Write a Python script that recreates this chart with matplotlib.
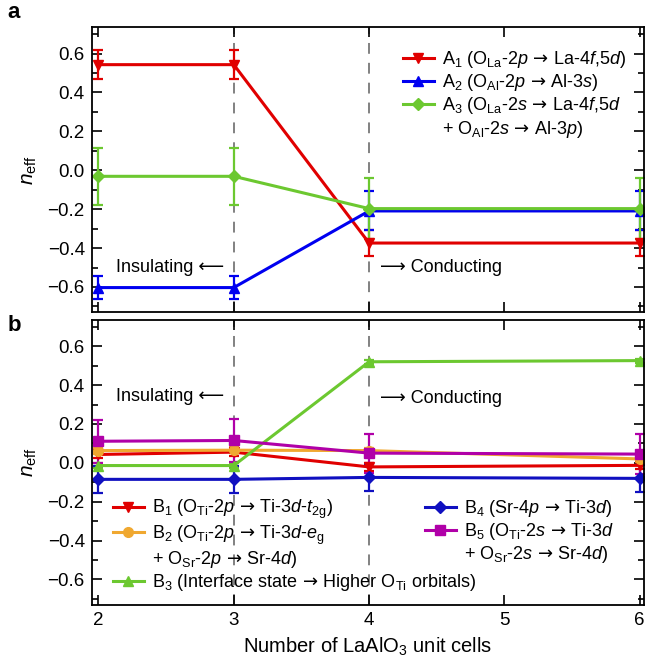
import matplotlib
matplotlib.use("Agg")
import matplotlib.pyplot as plt
from matplotlib.ticker import MultipleLocator
from matplotlib.lines import Line2D

plt.rcParams['font.family'] = ['Liberation Sans', 'DejaVu Sans']
plt.rcParams['mathtext.fontset'] = 'custom'
plt.rcParams['mathtext.rm'] = 'Liberation Sans'
plt.rcParams['mathtext.it'] = 'Liberation Sans:italic'
plt.rcParams['mathtext.bf'] = 'Liberation Sans:bold'
plt.rcParams['mathtext.sf'] = 'DejaVu Sans'

# ---------------- data ----------------
n_cells = [2, 3, 4, 6]

A1 = [0.543, 0.543, -0.374, -0.374]
A1_err = [0.075, 0.075, 0.065, 0.065]
A2 = [-0.603, -0.603, -0.209, -0.209]
A2_err = [0.06, 0.06, 0.10, 0.10]
A3 = [-0.031, -0.031, -0.197, -0.197]
A3_err = [0.145, 0.145, 0.155, 0.155]

B1 = [0.043, 0.055, -0.021, -0.013]
B1_err = [0.02, 0.02, 0.02, 0.02]
B2 = [0.063, 0.065, 0.063, 0.020]
B2_err = [0.015, 0.015, 0.015, 0.015]
B3 = [-0.014, -0.014, 0.520, 0.526]
B3_err = [0.015, 0.015, 0.01, 0.01]
B4 = [-0.085, -0.085, -0.075, -0.080]
B4_err = [0.07, 0.07, 0.07, 0.07]
B5 = [0.111, 0.115, 0.050, 0.045]
B5_err = [0.11, 0.11, 0.10, 0.105]

AR = r'$\,\mathsf{\rightarrow}\,$'
labels_a = [
    r'A$_1$ (O$_{\rm La}$-2$p$' + AR + r'La-4$f$,5$d$)',
    r'A$_2$ (O$_{\rm Al}$-2$p$' + AR + r'Al-3$s$)',
    r'A$_3$ (O$_{\rm La}$-2$s$' + AR + r'La-4$f$,5$d$',
    r'+ O$_{\rm Al}$-2$s$' + AR + r'Al-3$p$)',
]
labels_b = [
    r'B$_1$ (O$_{\rm Ti}$-2$p$' + AR + r'Ti-3$d$-$t_{\rm 2g}$)',
    r'B$_2$ (O$_{\rm Ti}$-2$p$' + AR + r'Ti-3$d$-$e_{\rm g}$',
    r'+ O$_{\rm Sr}$-2$p$' + AR + r'Sr-4$d$)',
    r'B$_3$ (Interface state' + AR + r'Higher O$_{\rm Ti}$ orbitals)',
    r'B$_4$ (Sr-4$p$' + AR + r'Ti-3$d$)',
    r'B$_5$ (O$_{\rm Ti}$-2$s$' + AR + r'Ti-3$d$',
    r'+ O$_{\rm Sr}$-2$s$' + AR + r'Sr-4$d$)',
]
xticks = [2, 3, 4, 5, 6]
yticks = [-0.6, -0.4, -0.2, 0.0, 0.2, 0.4, 0.6]

c_red = '#e00000'
c_blue = '#0000f0'
c_green = '#6cc830'
c_orange = '#f0a830'
c_dblue = '#1010c0'
c_mag = '#b000a8'

fig = plt.figure(figsize=(6.48, 6.58), dpi=100)
ax1 = fig.add_axes([0.1415, 0.5254, 0.852, 0.4331])
ax2 = fig.add_axes([0.1415, 0.0810, 0.852, 0.4327])


def style(ax):
    ax.set_xlim(1.95, 6.03)
    ax.set_ylim(-0.73, 0.735)
    ax.set_xticks(xticks)
    ax.set_yticks(yticks)
    ax.set_yticklabels([f'{v:.1f}'.replace('-', '−') for v in yticks])
    ax.yaxis.set_minor_locator(MultipleLocator(0.1))
    ax.tick_params(which='both', direction='in', top=True, right=True,
                   labelsize=13.5, width=1.2)
    ax.tick_params(which='major', length=7, pad=5)
    ax.tick_params(which='minor', length=4)
    for s in ax.spines.values():
        s.set_linewidth(1.3)
    for xv in (3, 4):
        ax.axvline(xv, color='#777777', ls=(0, (6, 5)), lw=1.3, zorder=0)
    ax.set_ylabel(r'$n_{\rm eff}$', fontsize=15, labelpad=6)


handles = {'blank': Line2D([], [], color='none', lw=0)}


def series(ax, y, e, color, marker, key, ms=7):
    ax.errorbar(n_cells, y, yerr=e, color=color, marker=marker, ms=ms,
                lw=2.2, elinewidth=1.6, capsize=3.5, capthick=1.6)
    handles[key] = Line2D([], [], color=color, marker=marker, ms=ms, lw=2.2)


style(ax1)
series(ax1, A1, A1_err, c_red, 'v', 'A1')
series(ax1, A2, A2_err, c_blue, '^', 'A2')
series(ax1, A3, A3_err, c_green, 'D', 'A3', ms=6)
ax1.tick_params(labelbottom=False)

leg_kw = dict(frameon=False, fontsize=13, handlelength=1.7,
              handletextpad=0.45, labelspacing=0.12, borderpad=0,
              borderaxespad=0, loc='upper left')
ax1.legend([handles['A1'], handles['A2'], handles['A3'], handles['blank']],
           labels_a, bbox_to_anchor=(403 / 648, 1 - 49 / 658),
           bbox_transform=fig.transFigure, **leg_kw)

txt_kw = dict(fontsize=13, family=['Liberation Sans', 'DejaVu Sans'], va='center')
ax1.text(2.93, -0.50, 'Insulating ⟵', ha='right', **txt_kw)
ax1.text(4.08, -0.50, '⟶ Conducting', ha='left', **txt_kw)

style(ax2)
series(ax2, B1, B1_err, c_red, 'v', 'B1')
series(ax2, B2, B2_err, c_orange, 'o', 'B2')
series(ax2, B3, B3_err, c_green, '^', 'B3')
series(ax2, B4, B4_err, c_dblue, 'D', 'B4', ms=6)
series(ax2, B5, B5_err, c_mag, 's', 'B5')
ax2.text(2.93, 0.34, 'Insulating ⟵', ha='right', **txt_kw)
ax2.text(4.08, 0.33, '⟶ Conducting', ha='left', **txt_kw)
ax2.set_xlabel(r'Number of LaAlO$_3$ unit cells', fontsize=14.5, labelpad=5)

legL = ax2.legend([handles['B1'], handles['B2'], handles['blank'], handles['B3']],
                  labels_b[:4], bbox_to_anchor=(113 / 648, 1 - 498 / 658),
                  bbox_transform=fig.transFigure, **leg_kw)
ax2.add_artist(legL)
ax2.legend([handles['B4'], handles['B5'], handles['blank']], labels_b[4:],
           bbox_to_anchor=(425 / 648, 1 - 498 / 658),
           bbox_transform=fig.transFigure, **leg_kw)

fig.text(0.012, 0.972, 'a', fontsize=16, fontweight='bold')
fig.text(0.012, 0.497, 'b', fontsize=16, fontweight='bold')

fig.savefig('out.png', dpi=100)
